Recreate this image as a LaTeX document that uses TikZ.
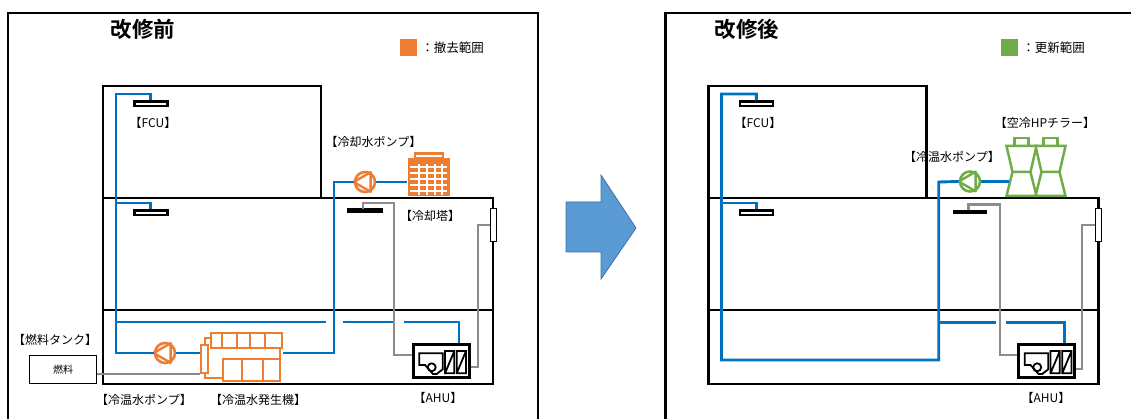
\documentclass[tikz,border=0pt]{standalone}
\usepackage{fontspec}
\setmainfont{Noto Sans CJK JP}[BoldFont={Noto Sans CJK JP Bold}]
\usepackage{tikz}
\usetikzlibrary{calc,positioning}

\definecolor{pipeblue}{HTML}{0070C0}
\definecolor{pipegray}{HTML}{8C8C8C}
\definecolor{dropor}{HTML}{ED7D31}
\definecolor{newgreen}{HTML}{70AD47}
\definecolor{arrowblue}{HTML}{5B9BD5}
\definecolor{arrowedge}{HTML}{41719C}

\tikzset{
  pics/pumpsym/.style={code={
    \node[circle, draw=#1, fill=white, line width=2.6pt, minimum size=20pt, inner sep=0pt] (-c) {};
    \draw[#1, line width=2.4pt, line join=round] (-c.180) -- (-c.60) -- (-c.-60) -- cycle;
  }},
  pics/hpunit/.style={code={
    \draw[newgreen, line width=2.5pt, fill=white] (-7,-58) rectangle (7,-50);
    \draw[newgreen, line width=2.5pt, fill=white] (-15,-50) -- (15,-50) -- (9,-24) -- (15,0)
      -- (-15,0) -- (-9,-24) -- cycle (-9,-24) -- (9,-24);
  }},
  pics/ahuin/.style={code={
    \draw[line width=1.8pt] (-21.7,-7.7) -- (1.7,-7.7) -- (1.7,8.3) -- (-4.3,13) -- (-8,13)
      -- (-16,4) -- (-21.7,4) -- cycle;
    \draw[line width=1.8pt] (-9.3,6.3) circle[radius=4pt];
    \draw[line width=1.8pt] (4,-10) rectangle (13.3,12.3) (4,12.3) -- (13.3,-10);
    \draw[line width=1.8pt] (15.7,-10) rectangle (25,12.3) (15.7,12.3) -- (25,-10);
  }}
}

\begin{document}
\begin{tikzpicture}[x=1pt, y=-1pt,
  wall/.style={line width=2.9pt},
  cw/.style={draw=pipeblue, line width=2.9pt},
  gy/.style={draw=pipegray, line width=2.9pt},
  lbl/.style={font=\fontsize{12}{12}\selectfont, inner sep=0pt},
  ttl/.style={font=\fontsize{21.5}{22}\selectfont\bfseries, inner sep=0pt},
  fcu/.style={draw, line width=2.5pt, fill=white, minimum width=33pt, minimum height=4.5pt, inner sep=0pt},
  ahu/.style={draw, line width=3pt, fill=white, minimum width=56pt, minimum height=33.5pt, inner sep=0pt},
  vent/.style={draw, line width=1.8pt, fill=white, minimum width=6pt, minimum height=33pt, inner sep=0pt},
  orbox/.style={draw=dropor, line width=2.4pt, fill=white, inner sep=0pt}]
\useasboundingbox (0,0) rectangle (1131,419);

% ---------- before ----------
\draw[wall] (8,419) |- (538,13) -- (538,419);
\node[ttl] (ttlA) at (143,29) {改修前};
\node[fill=dropor, minimum size=17pt, inner sep=0pt] (keyA) at (408.5,47.5) {};
\node[font=\fontsize{12.5}{12}\selectfont, inner sep=0pt, right=4pt of keyA] (keyAtxt) {：撤去範囲};

\draw[wall] (103,198) |- (321,86) -- (321,198);
\draw[wall] (103,198) rectangle (493,384);
\draw[wall] (103,310) -- (493,310);

\node[fcu] (fcuA1) at (150.8,104) {};
\node[fcu] (fcuA2) at (150.8,213) {};
\node[lbl] (fcuAlbl) at (153,123) {【FCU】};

\pic (pA) at (165,353) {pumpsym=dropor};
\pic (pB) at (365,182) {pumpsym=dropor};

% cooling tower
\node[fill=dropor, minimum width=42pt, minimum height=38pt, inner sep=0pt] (ctA) at (428.5,177.5) {};
\draw[dropor, line width=2.2pt, fill=white] (415,153.5) rectangle (443,158);
\foreach \yy in {167,173,179,185,191}
  \draw[white, line width=1.3pt] (410,\yy) -- (447,\yy);
\foreach \xx in {419,427,435,442}
  \draw[white, line width=1.3pt] (\xx,164) -- (\xx,195);

% chiller-heater
\filldraw[dropor, line width=2.4pt, fill=white] (205,338) rectangle (280,378);
\node[orbox, minimum width=71pt, minimum height=15pt] (chAtop) at (246.5,340.5) {};
\foreach \xx in {221.7,236.7,250,265}
  \draw[dropor, line width=2.4pt] (\xx,333) -- (\xx,348);
\node[orbox, minimum width=57pt, minimum height=22pt] (chAbot) at (251.5,370) {};
\foreach \xx in {242,263}
  \draw[dropor, line width=2.4pt] (\xx,359) -- (\xx,381);
\node[orbox, minimum width=7pt, minimum height=28pt] (chA) at (204.5,359) {};

% fuel tank
\node[draw, line width=1.6pt, minimum width=67pt, minimum height=28pt, inner sep=0pt,
  font=\fontsize{10}{10}\selectfont] (tank) at (63,369.5) {燃料};
\node[lbl] (tanklbl) at (55,340) {【燃料タンク】};
\draw[gy, line width=2.2pt] (tank.east |- chA.south west) -- (chA.south west);

% AHU and vents
\node[ahu] (ahuA) at (441,361) {};
\pic at (ahuA) {ahuin};
\node[vent] (ventA) at (493.5,225) {};
\node[fill=black, minimum width=36pt, minimum height=5pt, inner sep=0pt] (barA) at (365,211) {};

% chilled / hot water
\draw[cw] (fcuA1.north) |- (116,94) -- (116,353) -- (pA-c.west);
\draw[cw] (fcuA2.north) |- (116,203);
\draw[cw] (pA-c.east) -- (pA-c.east -| chA.west);
\draw[cw] (pA-c.east -| chAtop.east) -- (334,353) |- (pB-c.west);
\draw[cw] (pB-c.east) -- (pB-c.east -| ctA.west);
\draw[cw] (116,322) -- (326,322) (343,322) -- (393,322) (404,322) -| ($(ahuA.north)+(18,0)$);

% air ducts
\draw[gy] (363,209) |- (394,203) |- ($(ahuA.west)+(0,-6)$);
\draw[gy] (ventA.west) -| (478,367) -- ($(ahuA.east)+(0,6)$);

\node[lbl] (pBlbl) at (373.5,142) {【冷却水ポンプ】};
\node[lbl] (ctAlbl) at (430,216) {【冷却塔】};
\node[lbl] (pAlbl) at (144,400) {【冷温水ポンプ】};
\node[lbl] (chAlbl) at (258,400) {【冷温水発生機】};
\node[lbl] (ahuAlbl) at (438,398) {【AHU】};

% ---------- arrow ----------
\filldraw[fill=arrowblue, draw=arrowedge, line width=0.8pt]
  (566,202) -- (601,202) -- (601,175) -- (636,228) -- (601,279) -- (601,252) -- (566,252) -- cycle;

% ---------- after ----------
\draw[wall] (665.5,419) |- (1131,13);
\node[ttl] (ttlB) at (747,29) {改修後};
\node[fill=newgreen, minimum size=17pt, inner sep=0pt] (keyB) at (1009.5,47.5) {};
\node[font=\fontsize{12.5}{12}\selectfont, inner sep=0pt, right=4pt of keyB] (keyBtxt) {：更新範囲};

\draw[wall] (708.5,198) |- (926.5,86) -- (926.5,198);
\draw[wall] (708.5,198) rectangle (1098.5,384);
\draw[wall] (708.5,310) -- (1098.5,310);

\node[fcu] (fcuB1) at (756.3,104) {};
\node[fcu] (fcuB2) at (756.3,213) {};
\node[lbl] (fcuBlbl) at (758,123) {【FCU】};

\pic (pC) at (970,181.5) {pumpsym=newgreen};
\pic at (1021.5,196) {hpunit};
\pic at (1050.5,196) {hpunit};
\coordinate (hpin) at (1009,181.5);

\node[ahu] (ahuB) at (1046.5,361) {};
\pic at (ahuB) {ahuin};
\node[vent] (ventB) at (1098.5,225) {};
\node[draw, line width=1.8pt, fill=white, minimum width=33pt, minimum height=2.5pt, inner sep=0pt] (barB) at (970,212) {};

\draw[cw] (fcuB1.north) |- (721.5,94) -- (721.5,360) -| (938.7,182) -- (pC-c.west);
\draw[cw] (fcuB2.north) |- (721.5,203);
\draw[cw] (pC-c.east) -- (hpin);
\draw[cw] (938.7,322.7) -- (996,322.7) (1006,322.7) -| ($(ahuB.north)+(18,0)$);

\draw[gy] (968.3,210) |- (1000,204.3) |- ($(ahuB.west)+(0,-6)$);
\draw[gy] (ventB.west) -| (1082,369) -- ($(ahuB.east)+(0,8)$);

\node[lbl] (pClbl) at (952,157) {【冷温水ポンプ】};
\node[lbl] (hplbl) at (1045,123) {【空冷HPチラー】};
\node[lbl] (ahuBlbl) at (1046,398) {【AHU】};
\end{tikzpicture}
\end{document}
